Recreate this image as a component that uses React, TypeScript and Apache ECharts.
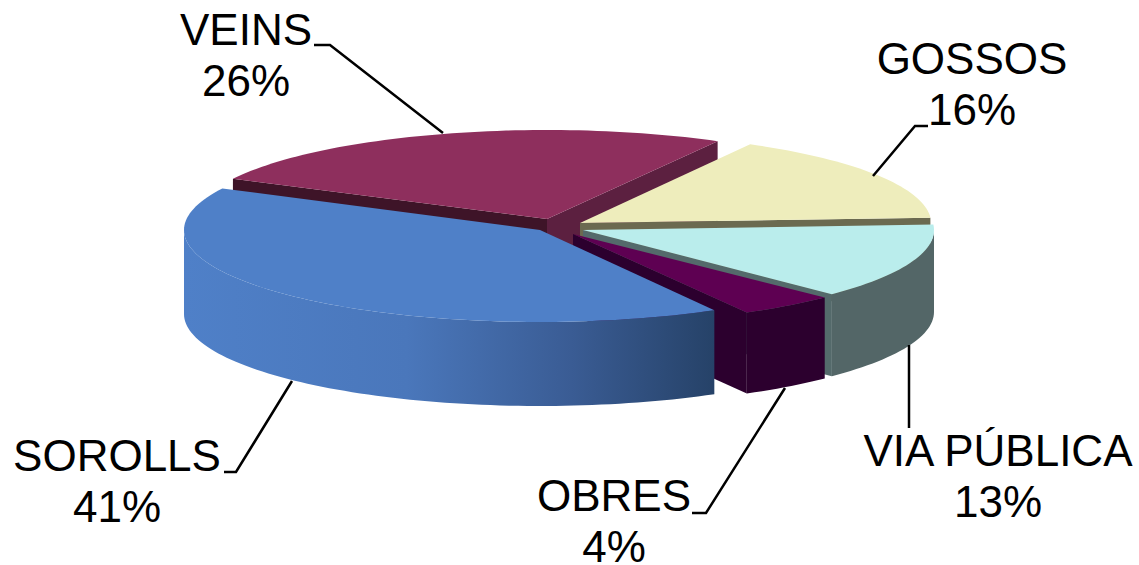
import React, { useEffect, useRef } from "react";
import * as echarts from "echarts";

// Data, in pie order (clockwise from the start angle)
const categories = ["GOSSOS", "VIA PÚBLICA", "OBRES", "SOROLLS", "VEINS"];
const values = [16, 13.4, 4.4, 40.6, 25.6];

// Style and layout, kept apart from the data
const topColors = ["#EEEDBC", "#BAEDEC", "#5E0052", "#4F80C8", "#8E2F5D"];
const endFaceColors = ["#6B6A50", "#546A6B", "#2C002E", "#264268", "#5C2040"];
const startFaceColors = ["#6B6A50", "#546A6B", "#2C002E", "#264268", "#3E1428"];
const arcFaceColors = ["#6B6A50", "#536667", "#2C002E", "grad", "#5C2040"];
const apexX = [580, 583, 573, 540, 547];
const apexY = [223, 230, 234, 230, 219];
const radiusX = [351, 351, 355, 356, 352];
const radiusY = [90, 91, 90, 92, 89];
const depths = [82, 82, 81, 84, 82];
const labelX = [972, 998, 614, 117, 246];
const labelY = [84, 476, 521, 481, 55];
const leaderLines = [
  [[873, 176], [915, 126], [928, 126]],
  [[909, 345], [909, 428]],
  [[785, 388], [706, 513], [692, 513]],
  [[292, 381], [236, 472], [224, 472]],
  [[443, 133], [330, 45], [314, 45]],
];
const drawOrder = [4, 0, 1, 2, 3];
const startAngle = 29;

const total = values.reduce((a, b) => a + b, 0);
const rad = (d: number) => (d * Math.PI) / 180;

function sliceAngles(i: number): [number, number] {
  let a = startAngle;
  for (let k = 0; k < i; k++) a += (values[k] / total) * 360;
  return [a, a + (values[i] / total) * 360];
}

function renderItem(_params: any, api: any) {
  const i = api.value(0) as number;
  const [a0, a1] = sliceAngles(i);
  const cx = apexX[i];
  const cy = apexY[i];
  const depth = depths[i];
  const at = (t: number, dy = 0): number[] => [
    cx + radiusX[i] * Math.sin(rad(t)),
    cy - radiusY[i] * Math.cos(rad(t)) + dy,
  ];
  const arc = (from: number, to: number, dy = 0) => {
    const n = Math.max(2, Math.ceil(Math.abs(to - from) / 1.5));
    const pts: number[][] = [];
    for (let k = 0; k <= n; k++) pts.push(at(from + ((to - from) * k) / n, dy));
    return pts;
  };
  const children: any[] = [];
  const poly = (points: number[][], fill: any) =>
    children.push({ type: "polygon", shape: { points }, style: { fill } });

  // Radial faces: the end face looks forward when its outward normal points to the viewer
  if (Math.cos(rad(a1 + 90)) < 0) {
    const c = at(a1);
    poly([[cx, cy], c, [c[0], c[1] + depth], [cx, cy + depth]], endFaceColors[i]);
  }
  if (Math.cos(rad(a0 - 90)) < 0) {
    const c = at(a0);
    poly([[cx, cy], c, [c[0], c[1] + depth], [cx, cy + depth]], startFaceColors[i]);
  }
  // Outer wall: only the front half of the ellipse shows
  const from = Math.max(a0, 90);
  const to = Math.min(a1, 270);
  if (to > from) {
    const fill =
      arcFaceColors[i] === "grad"
        ? new echarts.graphic.LinearGradient(1, 0, 0, 0, [
            { offset: 0, color: "#264268" },
            { offset: 0.27, color: "#3A5C94" },
            { offset: 0.58, color: "#4A77BB" },
            { offset: 1, color: "#4F80C8" },
          ])
        : arcFaceColors[i];
    poly([...arc(from, to), ...arc(to, from, depth)], fill);
  }
  // Top surface
  poly([[cx, cy], ...arc(a0, a1)], topColors[i]);

  children.push({
    type: "polyline",
    shape: { points: leaderLines[i] },
    style: { stroke: "#000", lineWidth: 2.5, fill: "none" },
  });
  children.push({
    type: "text",
    style: {
      text: `${categories[i]}\n${Math.round(values[i])}%`,
      x: labelX[i],
      y: labelY[i],
      fill: "#000",
      fontSize: 44,
      fontFamily: "Liberation Sans",
      lineHeight: 51,
      textAlign: "center",
      verticalAlign: "middle",
    },
  });
  return { type: "group", children };
}

export default function App() {
  const ref = useRef<HTMLDivElement>(null);
  useEffect(() => {
    const chart = echarts.init(ref.current!, undefined, { renderer: "svg" });
    chart.setOption({
      animation: false,
      backgroundColor: "#fff",
      series: [
        {
          type: "custom",
          coordinateSystem: "none",
          renderItem,
          silent: true,
          clip: false,
          data: drawOrder.map((i) => [i, values[i]]),
        },
      ],
    });
    return () => chart.dispose();
  }, []);
  return <div ref={ref} style={{ position: "fixed", left: 0, top: 0, width: 1139, height: 565 }} />;
}
